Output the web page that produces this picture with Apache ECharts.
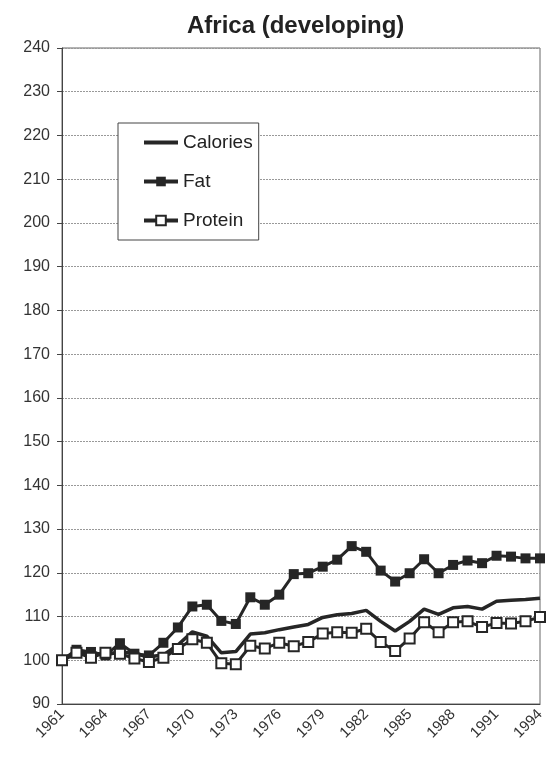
<!DOCTYPE html>
<html>
<head>
<meta charset="utf-8">
<title>Africa (developing)</title>
<script src="https://cdn.jsdelivr.net/npm/echarts@6/dist/echarts.min.js"></script>
<style>
  html, body { margin: 0; padding: 0; background: #fff; }
  #chart { width: 549px; height: 763px; }
</style>
</head>
<body>
<div id="chart"></div>
<script>
// years 1961 - 1994
var years = [];
for (var y = 1961; y <= 1994; y++) years.push(String(y));

var calories = [100, 101.5, 101.8, 101.2, 102, 101.5, 100.8, 101.2, 103.5, 106.5,
    105.5, 101.7, 102, 106, 106.3, 107, 107.6, 108.2, 109.8, 110.4,
    110.7, 111.4, 108.9, 106.7, 108.9, 111.7, 110.5, 112, 112.3, 111.7,
    113.5, 113.7, 113.9, 114.2];

var fat = [100, 102.4, 101.9, 101.1, 103.9, 101.5, 101.1, 104, 107.5, 112.3,
    112.7, 109, 108.3, 114.4, 112.7, 115, 119.7, 119.9, 121.4, 123,
    126.1, 124.8, 120.5, 118, 119.9, 123.1, 119.9, 121.8, 122.8, 122.2,
    123.9, 123.7, 123.3, 123.3];

var protein = [100, 101.7, 100.6, 101.7, 101.5, 100.4, 99.6, 100.6, 102.6, 104.8,
    104, 99.3, 99.1, 103.3, 102.7, 104, 103.2, 104.2, 106.1, 106.4,
    106.3, 107.2, 104.2, 102.1, 105, 108.7, 106.4, 108.7, 108.9, 107.6,
    108.5, 108.4, 108.9, 109.9];

var ink = '#262626';
var font = "'Liberation Sans', Arial, sans-serif";

var chart = echarts.init(document.getElementById('chart'));

var option = {
    animation: false,
    backgroundColor: '#fff',
    title: {
        text: 'Africa (developing)',
        left: 182,
        top: 9,
        textStyle: { fontFamily: font, fontSize: 24, fontWeight: 'bold', color: '#222' }
    },
    legend: {
        orient: 'vertical',
        left: 118,
        top: 123,
        padding: [10, 6, 10, 24],
        itemGap: 20,
        itemWidth: 34,
        itemHeight: 12,
        backgroundColor: '#fff',
        borderColor: '#444',
        borderWidth: 1,
        lineStyle: { width: 4 },
        textStyle: { fontFamily: font, fontSize: 19, color: '#222' },
        data: [
            // plain thick line, no marker
            { name: 'Calories', icon: 'path://M0,0L34,0L34,4L0,4Z' },
            'Fat',
            'Protein'
        ]
    },
    grid: {
        left: 62,
        right: 9,
        top: 48,
        bottom: 59,
        show: true,
        borderColor: '#666',
        borderWidth: 1
    },
    xAxis: {
        type: 'category',
        data: years,
        boundaryGap: false,
        axisLine: { lineStyle: { color: '#444', width: 1 } },
        axisTick: { show: false },
        axisLabel: {
            interval: 2,
            rotate: 45,
            margin: 8,
            fontFamily: font,
            fontSize: 15,
            color: '#333'
        }
    },
    yAxis: {
        type: 'value',
        min: 90,
        max: 240,
        interval: 10,
        axisLine: { show: true, lineStyle: { color: '#444', width: 1 } },
        axisTick: { show: true, length: 5, lineStyle: { color: '#444' } },
        axisLabel: { margin: 12, fontFamily: font, fontSize: 16, color: '#333' },
        splitLine: { lineStyle: { color: '#999', width: 1, type: [2, 1] } }
    },
    series: [
        {
            name: 'Calories',
            type: 'line',
            data: calories,
            symbol: 'none',
            lineStyle: { color: ink, width: 3.5 },
            itemStyle: { color: ink }
        },
        {
            name: 'Fat',
            type: 'line',
            data: fat,
            symbol: 'rect',
            symbolSize: 10,
            showAllSymbol: true,
            lineStyle: { color: ink, width: 3 },
            itemStyle: { color: ink, borderColor: ink, borderWidth: 0 }
        },
        {
            name: 'Protein',
            type: 'line',
            data: protein,
            symbol: 'rect',
            symbolSize: 10,
            showAllSymbol: true,
            lineStyle: { color: ink, width: 3 },
            itemStyle: { color: '#fff', borderColor: ink, borderWidth: 2 }
        }
    ]
};

chart.setOption(option);
</script>
</body>
</html>
